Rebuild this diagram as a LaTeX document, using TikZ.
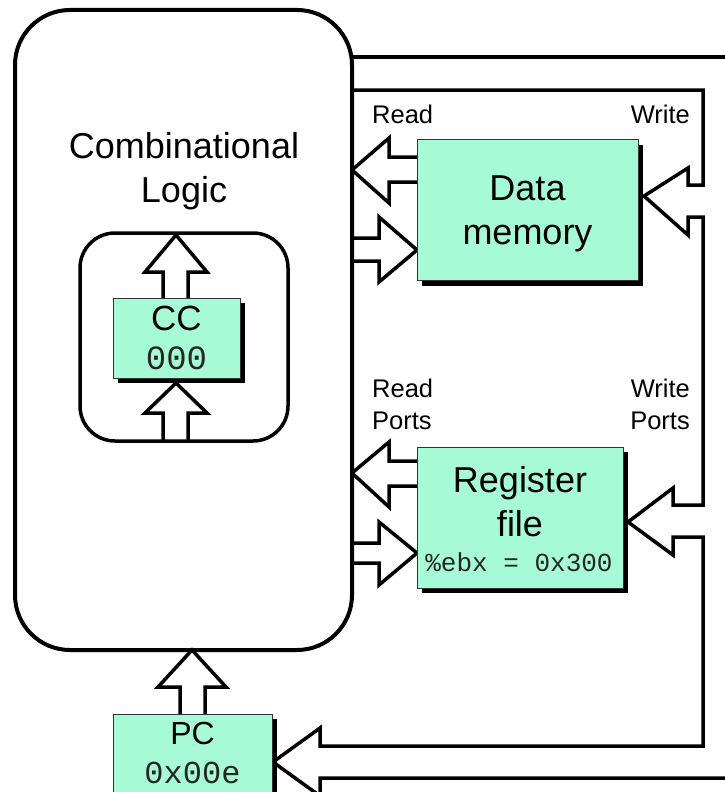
\documentclass[tikz,border=0pt]{standalone}
\usepackage{fontspec}
\setmainfont{Liberation Sans}
\newfontfamily\monofnt{Liberation Mono}
\usetikzlibrary{shadows}
\definecolor{mint}{RGB}{166,251,214}
\begin{document}
\begin{tikzpicture}[x=1pt,y=-1pt,
  box/.style={draw=black!80,line width=1pt,fill=mint,inner sep=0pt,
    drop shadow={shadow xshift=5pt,shadow yshift=-5pt,fill=black,opacity=1}},
  blk/.style={line width=3.5pt,line join=miter,black},
  wire/.style={line width=3.5pt,line join=miter,black},
  big/.style={font=\fontsize{36}{44}\selectfont,align=center,inner sep=0pt},
  lbl/.style={font=\fontsize{25.5}{32}\selectfont,inner sep=0pt},
  mono/.style={font=\monofnt\fontsize{#1}{#1}\selectfont,inner sep=0pt,text=black!85}]
\useasboundingbox (0,0) rectangle (724,792);
\fill[white] (0,0) rectangle (724,792);
% combinational logic
\draw[line width=4pt,rounded corners=55pt] (15,10) rectangle (352,650);
\node[big] (cl) at (184,171) {Combinational\\Logic};
\draw[line width=3.5pt,rounded corners=35pt] (80,233) rectangle (288,441);
% CC arrows
\draw[blk] (163,298)--(163,272)--(145,272)--(176,235)--(207,272)--(188,272)--(188,298);
\draw[blk] (163,441)--(163,413)--(145,413)--(176,383)--(207,413)--(188,413)--(188,441);
\node[box,minimum width=127pt,minimum height=80pt] (cc) at (176.5,338) {};
\node[font=\fontsize{35}{35}\selectfont,inner sep=0pt] at (176.5,318) {CC};
\node[mono=34] at (176.5,358) {000};
% data memory arrows
\draw[blk] (352,170)--(389,138)--(389,157)--(417,157);
\draw[blk] (417,182)--(389,182)--(389,203)--(352,170);
\draw[blk] (352,238)--(379,238)--(379,217)--(417,250)--(379,282)--(379,261)--(352,261);
% register file arrows
\draw[blk] (352,473)--(389,442)--(389,461)--(417,461);
\draw[blk] (417,486)--(389,486)--(389,507)--(352,473);
\draw[blk] (352,543)--(379,543)--(379,522)--(417,553)--(379,585)--(379,563)--(352,563);
% right side wires
\draw[wire] (352,57)--(730,57);
\draw[wire] (352,90)--(703,90)--(703,185)--(688,185)--(688,168)--(644,196)--(688,235)--(688,217)--(703,217)
  --(703,505)--(673,505)--(673,488)--(628,522)--(673,555)--(673,537)--(703,537)
  --(703,746)--(320,746)--(320,728)--(273,762)--(320,796)--(320,778)--(730,778);
% PC arrow
\draw[blk] (180,714)--(180,687)--(158,687)--(192,650)--(226,687)--(205,687)--(205,714);
% boxes
\node[box,minimum width=221pt,minimum height=141pt] (dm) at (527.5,210) {};
\node[big] at (527.5,214) {Data\\memory};
\node[box,minimum width=206pt,minimum height=141pt] (rf) at (520,517.5) {};
\node[big] at (520,502) {Register\\file};
\node[mono=26] at (519,562) {\%ebx = 0x300};
\node[box,minimum width=159pt,minimum height=90pt] (pc) at (192.5,759) {};
\node[font=\fontsize{32}{32}\selectfont,inner sep=0pt] at (192.5,733) {PC};
\node[mono=32] at (192.5,773) {0x00e};
% labels
\node[lbl,anchor=west] at (372,114) {Read};
\node[lbl,anchor=east] at (690,114) {Write};
\node[lbl,anchor=west,align=left] at (372,404) {Read\\Ports};
\node[lbl,anchor=east,align=right] at (690,404) {Write\\Ports};
\end{tikzpicture}
\end{document}
